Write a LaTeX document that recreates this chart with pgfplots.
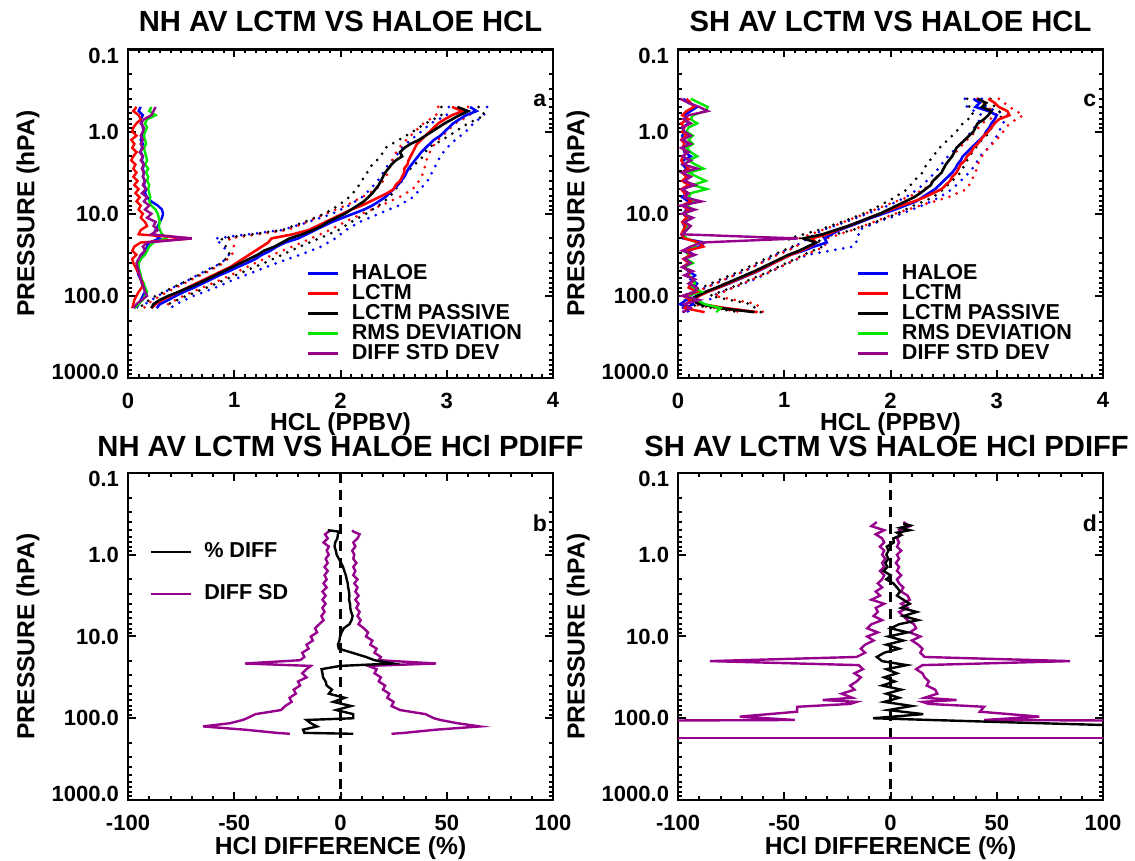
\documentclass[border=0pt]{standalone}
\usepackage{fontspec}
\setmainfont{Liberation Sans}
\usepackage{pgfplots}
\usepackage{pgfplotstable}
\pgfplotsset{compat=1.18}
\definecolor{hgreen}{RGB}{0,230,0}
\definecolor{hpurp}{RGB}{150,0,140}

\pgfplotstableread{
p hb hr hk nb nr ng np
0.501 3.22 3.05 3.10 0.12 0.08 0.22 0.26
0.562 3.28 3.15 3.20 0.10 0.05 0.20 0.24
0.631 3.18 3.05 3.12 0.14 0.10 0.26 0.22
0.708 3.12 2.98 3.05 0.12 0.12 0.18 0.15
0.794 3.06 2.92 2.98 0.13 0.08 0.16 0.12
0.891 3.02 2.88 2.92 0.14 0.05 0.18 0.15
1.00 2.98 2.84 2.86 0.15 0.04 0.16 0.14
1.12 2.94 2.80 2.80 0.13 0.08 0.15 0.12
1.26 2.88 2.76 2.74 0.12 0.03 0.16 0.14
1.41 2.84 2.72 2.66 0.14 0.06 0.17 0.12
1.58 2.80 2.70 2.60 0.13 0.04 0.15 0.14
1.78 2.76 2.68 2.56 0.12 0.08 0.16 0.11
2.00 2.73 2.66 2.58 0.14 0.05 0.17 0.14
2.24 2.70 2.64 2.52 0.13 0.03 0.18 0.12
2.51 2.67 2.63 2.48 0.15 0.07 0.16 0.15
2.82 2.64 2.60 2.45 0.14 0.05 0.19 0.13
3.16 2.62 2.60 2.42 0.15 0.08 0.17 0.15
3.55 2.60 2.58 2.40 0.14 0.05 0.19 0.14
3.98 2.57 2.56 2.38 0.16 0.09 0.18 0.16
4.47 2.54 2.52 2.36 0.15 0.06 0.20 0.14
5.01 2.50 2.50 2.33 0.17 0.10 0.19 0.17
5.62 2.46 2.44 2.30 0.16 0.07 0.20 0.13
6.31 2.42 2.36 2.26 0.18 0.11 0.21 0.18
7.08 2.36 2.28 2.22 0.22 0.08 0.20 0.15
7.94 2.30 2.20 2.16 0.28 0.12 0.22 0.20
8.91 2.22 2.10 2.10 0.32 0.10 0.26 0.16
10.0 2.12 2.02 2.04 0.33 0.14 0.28 0.22
11.2 2.02 1.94 1.96 0.32 0.12 0.29 0.18
12.6 1.92 1.86 1.88 0.30 0.16 0.30 0.26
14.1 1.84 1.78 1.82 0.28 0.18 0.29 0.24
15.8 1.76 1.70 1.74 0.26 0.12 0.30 0.28
17.8 1.68 1.55 1.64 0.24 0.10 0.32 0.22
20.0 1.60 1.35 1.52 0.30 0.60 0.36 0.60
22.4 1.48 1.32 1.45 0.20 0.12 0.24 0.18
25.1 1.40 1.26 1.38 0.18 0.06 0.20 0.14
28.2 1.34 1.20 1.28 0.16 0.04 0.18 0.16
31.6 1.26 1.14 1.22 0.15 0.08 0.16 0.12
35.5 1.20 1.08 1.14 0.12 0.04 0.12 0.10
39.8 1.12 1.02 1.06 0.10 0.05 0.10 0.08
44.7 1.03 0.96 0.98 0.08 0.07 0.10 0.09
50.1 0.95 0.88 0.90 0.09 0.09 0.11 0.10
56.2 0.86 0.80 0.82 0.10 0.11 0.12 0.11
63.1 0.78 0.72 0.74 0.12 0.12 0.13 0.12
70.8 0.70 0.64 0.66 0.14 0.14 0.15 0.13
79.4 0.62 0.56 0.57 0.15 0.13 0.16 0.15
89.1 0.53 0.48 0.48 0.16 0.10 0.18 0.16
100 0.45 0.40 0.38 0.14 0.08 0.16 0.18
112 0.38 0.32 0.30 0.12 0.06 0.14 0.13
126 0.30 0.26 0.24 0.10 0.05 0.10 0.08
141 0.27 0.22 0.22 0.08 0.04 0.06 0.05
}\tlm

\pgfplotstableread{
p blo bhi rlo rhi klo khi
0.501 3.02 3.38 2.92 3.20 2.95 3.30
0.631 3.00 3.35 2.90 3.22 2.95 3.36
0.794 2.85 3.25 2.78 3.08 2.80 3.20
1.00 2.76 3.18 2.70 3.00 2.68 3.08
1.26 2.66 3.08 2.62 2.92 2.55 2.96
1.58 2.58 3.00 2.55 2.86 2.42 2.82
2.00 2.52 2.94 2.50 2.82 2.38 2.78
2.51 2.45 2.90 2.47 2.80 2.30 2.70
3.16 2.40 2.86 2.45 2.78 2.25 2.62
3.98 2.35 2.82 2.40 2.74 2.20 2.58
5.01 2.28 2.75 2.34 2.68 2.15 2.52
6.31 2.20 2.68 2.20 2.55 2.08 2.46
7.94 2.08 2.55 2.05 2.38 1.98 2.36
10.0 1.92 2.36 1.86 2.20 1.85 2.24
12.6 1.70 2.18 1.68 2.04 1.66 2.10
15.8 1.45 2.05 1.50 1.90 1.45 1.98
20.0 0.82 1.95 0.95 1.72 0.88 1.80
25.1 0.90 1.82 1.00 1.55 0.92 1.62
31.6 0.95 1.62 0.98 1.36 0.96 1.45
39.8 0.88 1.40 0.90 1.20 0.88 1.28
50.1 0.72 1.20 0.76 1.04 0.74 1.10
63.1 0.58 1.00 0.60 0.88 0.58 0.92
79.4 0.42 0.82 0.45 0.70 0.42 0.74
100 0.28 0.62 0.30 0.52 0.26 0.55
126 0.16 0.45 0.18 0.38 0.14 0.38
141 0.14 0.40 0.15 0.34 0.12 0.34
}\tld

\pgfplotstableread{
p hb hr hk nb nr ng np
0.398 2.78 2.92 2.82 0.05 0.08 0.12 0.02
0.447 2.84 2.98 2.90 0.10 0.12 0.20 0.10
0.501 2.80 3.02 2.86 0.18 0.15 0.28 0.20
0.562 2.92 3.10 2.95 0.12 0.08 0.26 0.28
0.631 3.00 3.12 2.92 0.06 0.04 0.14 0.10
0.708 2.98 3.02 2.88 0.08 0.10 0.12 0.05
0.794 2.95 2.98 2.82 0.10 0.03 0.18 0.12
0.891 2.93 2.95 2.80 0.04 0.06 0.10 0.04
1.00 2.90 2.92 2.78 0.06 0.04 0.08 0.06
1.12 2.88 2.88 2.74 0.04 0.08 0.14 0.12
1.26 2.84 2.85 2.70 0.05 0.03 0.10 0.04
1.41 2.80 2.82 2.66 0.10 0.06 0.14 0.12
1.58 2.76 2.78 2.62 0.05 0.04 0.08 0.03
1.78 2.72 2.76 2.60 0.06 0.08 0.12 0.10
2.00 2.68 2.72 2.58 0.12 0.05 0.18 0.04
2.24 2.66 2.70 2.55 0.05 0.03 0.10 0.12
2.51 2.63 2.66 2.52 0.04 0.06 0.16 0.05
2.82 2.61 2.64 2.50 0.08 0.10 0.24 0.18
3.16 2.58 2.62 2.48 0.04 0.04 0.10 0.04
3.55 2.54 2.58 2.44 0.10 0.08 0.18 0.12
3.98 2.50 2.56 2.40 0.06 0.04 0.26 0.06
4.47 2.46 2.52 2.38 0.12 0.10 0.14 0.16
5.01 2.42 2.48 2.33 0.05 0.03 0.27 0.04
5.62 2.36 2.40 2.28 0.08 0.06 0.12 0.10
6.31 2.30 2.32 2.22 0.04 0.08 0.10 0.06
7.08 2.24 2.22 2.14 0.10 0.12 0.16 0.22
7.94 2.14 2.10 2.06 0.06 0.04 0.08 0.03
8.91 2.04 2.00 1.98 0.08 0.10 0.14 0.16
10.0 1.93 1.90 1.90 0.05 0.05 0.06 0.04
11.2 1.82 1.80 1.80 0.09 0.08 0.12 0.14
12.6 1.72 1.70 1.70 0.04 0.04 0.05 0.06
14.1 1.62 1.60 1.60 0.06 0.07 0.10 0.12
15.8 1.52 1.50 1.48 0.08 0.05 0.06 0.08
17.8 1.44 1.40 1.36 0.04 0.03 0.05 0.04
20.0 1.38 1.26 1.18 0.05 0.06 0.08 1.13
22.4 1.40 1.30 1.30 0.25 0.20 0.18 0.22
25.1 1.28 1.24 1.22 0.20 0.24 0.16 0.12
28.2 1.18 1.16 1.14 0.10 0.08 0.06 0.04
31.6 1.06 1.06 1.04 0.14 0.12 0.10 0.16
35.5 0.98 0.98 0.96 0.06 0.05 0.08 0.06
39.8 0.90 0.90 0.88 0.12 0.10 0.14 0.12
44.7 0.83 0.82 0.80 0.05 0.04 0.06 0.04
50.1 0.75 0.74 0.72 0.10 0.12 0.12 0.14
56.2 0.66 0.65 0.63 0.16 0.08 0.10 0.06
63.1 0.57 0.56 0.54 0.12 0.15 0.14 0.16
70.8 0.48 0.47 0.45 0.18 0.12 0.16 0.10
79.4 0.38 0.38 0.36 0.15 0.10 0.12 0.18
89.1 0.28 0.28 0.26 0.20 0.18 0.22 0.16
100 0.18 0.20 0.18 0.10 0.05 0.08 0.04
112 0.10 0.14 0.12 0.08 0.12 0.18 0.20
126 0.14 0.22 0.20 0.02 0.08 0.25 0.06
141 0.08 0.45 0.40 0.10 0.06 0.40 0.12
158 0.10 0.75 0.72 0.05 0.25 0.36 0.04
}\trm

\pgfplotstableread{
p blo bhi rlo rhi klo khi
0.398 2.70 2.86 2.82 3.02 2.72 2.94
0.501 2.72 2.90 2.92 3.12 2.74 2.98
0.631 2.86 3.10 3.00 3.25 2.78 3.06
0.794 2.82 3.06 2.86 3.12 2.68 2.96
1.00 2.76 3.02 2.80 3.06 2.62 2.94
1.26 2.70 2.98 2.72 3.00 2.54 2.86
1.58 2.62 2.92 2.65 2.92 2.46 2.80
2.00 2.54 2.84 2.58 2.86 2.40 2.74
2.51 2.48 2.80 2.52 2.82 2.34 2.70
3.16 2.42 2.74 2.48 2.80 2.30 2.66
3.98 2.34 2.66 2.40 2.76 2.22 2.58
5.01 2.26 2.58 2.32 2.72 2.16 2.50
6.31 2.14 2.46 2.16 2.54 2.04 2.40
7.94 1.98 2.30 1.95 2.28 1.90 2.22
10.0 1.78 2.10 1.76 2.04 1.74 2.06
12.6 1.58 1.88 1.56 1.84 1.54 1.86
15.8 1.36 1.70 1.36 1.64 1.32 1.64
20.0 1.22 1.70 1.14 1.40 1.04 1.32
25.1 1.10 1.65 1.12 1.38 1.08 1.36
31.6 0.92 1.22 0.94 1.20 0.90 1.18
39.8 0.78 1.04 0.78 1.04 0.74 1.02
50.1 0.62 0.88 0.62 0.88 0.58 0.86
63.1 0.44 0.72 0.44 0.70 0.40 0.68
79.4 0.26 0.52 0.26 0.52 0.22 0.50
100 0.08 0.32 0.10 0.34 0.06 0.30
126 0.05 0.28 0.12 0.74 0.08 0.68
158 0.04 0.22 0.60 0.80 0.58 0.78
}\trd

\pgfplotstableread{
p d lo hi
0.501 -6.0 -5.0 5.5
0.520 -1.0 -5.5 6.0
0.562 -1.2 -7.3 9.0
0.631 -1.5 -6.0 8.0
0.708 -2.5 -8.0 6.0
0.794 -2.8 -5.5 7.0
0.891 -2.2 -6.5 5.5
1.00 -1.8 -5.5 6.5
1.12 -0.8 -7.0 6.0
1.26 0.3 -6.0 7.5
1.41 1.2 -7.5 6.0
1.58 1.8 -6.0 7.0
1.78 2.5 -7.5 6.0
2.00 2.9 -6.5 8.0
2.24 3.4 -8.0 6.5
2.51 3.6 -6.5 8.0
2.82 4.0 -8.5 7.0
3.16 4.2 -7.0 8.5
3.55 4.0 -8.5 7.0
3.98 4.5 -7.0 8.5
4.47 4.6 -8.5 7.5
5.01 5.0 -7.5 9.0
5.62 5.7 -9.0 8.0
6.31 5.2 -8.0 9.5
7.08 4.2 -10.0 8.5
7.94 1.5 -12.0 11.0
8.91 0.5 -11.0 13.0
10.0 -0.2 -14.0 12.0
11.2 -0.5 -13.0 15.0
12.6 -1.2 -16.0 14.0
14.1 -0.8 -15.0 17.0
15.8 5.5 -18.0 16.0
17.8 12.0 -17.0 19.0
19.5 16.0 -19.0 18.0
21.4 24.7 -45.0 45.0
22.9 -0.2 -14.0 13.0
25.1 -8.9 -16.0 17.0
28.2 -8.5 -18.0 16.0
31.6 -8.2 -16.0 19.0
35.5 -7.0 -20.0 18.0
39.8 -6.5 -19.0 21.0
44.7 -4.0 -22.0 20.0
50.1 -5.5 -21.0 23.0
56.2 2.0 -24.0 22.0
63.1 -3.4 -23.0 25.0
70.8 5.0 -26.0 24.0
79.4 -2.0 -28.0 28.0
89.1 6.0 -40.0 40.0
100 6.0 -44.0 44.0
105 -16.0 -46.0 47.0
115 -14.0 -52.0 55.0
126 -11.0 -64.7 65.6
138 -17.6 -45.0 45.0
151 -17.0 -30.0 30.0
155 6.0 -23.8 24.0
}\bld

\pgfplotstableread{
p d
0.417 6.0
0.437 9.0
0.468 4.5
0.501 9.0
0.537 3.0
0.575 5.0
0.631 1.3
0.708 1.5
0.794 -1.8
0.891 -1.0
1.00 -2.0
1.12 -1.0
1.26 -2.5
1.41 -1.5
1.58 -3.4
1.78 0.0
2.00 -2.0
2.24 1.3
2.51 3.0
2.82 4.5
3.16 3.0
3.55 6.0
3.98 9.0
4.47 5.0
5.01 12.3
5.62 6.0
6.31 13.0
7.08 4.0
7.94 0.0
8.91 8.0
10.0 -1.0
11.2 6.0
12.6 -2.0
14.1 4.0
15.8 -3.0
17.8 -6.5
20.0 -4.0
22.4 7.6
25.1 -2.0
28.2 3.0
31.6 -3.0
35.5 2.0
39.8 -4.0
44.7 5.0
50.1 -2.0
56.2 4.0
63.1 -3.0
70.8 10.0
79.4 -1.0
89.1 15.4
100 -8.2
112 55.0
123 110.0
}\brd

\pgfplotstableread{
p lo hi
0.398 -6.5 6.0
0.447 -9.0 9.0
0.501 -3.0 4.0
0.562 -7.0 5.0
0.631 -4.0 3.0
0.708 -3.0 4.0
0.794 -5.0 3.0
0.891 -3.0 5.0
1.00 -4.0 3.0
1.12 -2.5 4.0
1.26 -4.0 2.5
1.41 -3.0 4.0
1.58 -5.0 3.0
1.78 -3.0 5.0
2.00 -4.0 3.0
2.24 -6.0 4.0
2.51 -4.0 6.0
2.82 -7.0 5.0
3.16 -5.0 8.0
3.55 -9.0 9.0
3.98 -3.0 5.0
4.47 -7.0 8.0
5.01 -6.0 4.0
5.62 -8.0 6.0
6.31 -4.0 8.0
7.08 -9.0 11.0
7.94 -11.0 12.0
8.91 -6.0 9.0
10.0 -11.0 14.0
11.2 -8.0 10.0
12.6 -12.0 13.0
14.1 -14.0 15.0
15.8 -12.0 14.0
17.8 -16.0 16.0
20.0 -85.0 84.5
22.4 -15.0 15.0
25.1 -13.0 12.0
28.2 -17.0 15.0
31.6 -14.0 16.0
35.5 -16.0 18.0
39.8 -19.0 17.0
44.7 -17.0 21.0
50.1 -23.0 22.0
56.2 -18.0 16.0
59.8 -32.0 31.0
63.1 -16.0 15.0
66.8 -19.0 18.0
72.4 -44.0 44.0
83.2 -44.0 42.0
95.5 -71.0 70.0
105 -45.0 44.0
115 -400.0 400.0
173 -3000.0 3000.0
}\brs

\newcommand{\tickfont}{\bfseries\fontsize{11}{13}\selectfont}
\newcommand{\labfont}{\bfseries\fontsize{12.3}{14}\selectfont}
\newcommand{\legfont}{\bfseries\fontsize{10.8}{12}\selectfont}
\newcommand{\titfont}{\bfseries\fontsize{14.6}{17}\selectfont}

\pgfplotsset{every axis/.append style={
    scale only axis, width=212.5pt,
    ymin=0.1, ymax=1000,
    tick align=inside,
    major tick length=4pt, minor tick length=2pt,
    tick style={black, line width=1pt},
    axis line style={line width=1.2pt},
    tick label style={font=\tickfont},
    legend cell align=left,
}}

\begin{document}
\begin{tikzpicture}
\useasboundingbox (0,0) rectangle (567.5pt,430.5pt);

% ================= (a) =================
\begin{axis}[at={(64pt,241.5pt)}, anchor=south west, height=164.25pt,
  ymode=log, y dir=reverse,
  ytick={0.1,1,10,100,1000}, yticklabels={\raisebox{-3pt}[7.9pt][0pt]{0.1},1.0,10.0,100.0,\raisebox{3pt}[7.9pt][0pt]{1000.0}},
  minor ytick={0.2,0.3,0.4,0.5,0.6,0.7,0.8,0.9,2,3,4,5,6,7,8,9,20,30,40,50,60,70,80,90,200,300,400,500,600,700,800,900},
  xmin=0, xmax=4, xtick={0,1,2,3,4}, xticklabels={0,1,2,3,4}, minor x tick num=9,
  xtick pos=both, ytick pos=both, xticklabel pos=bottom, yticklabel pos=left,
  yticklabel style={xshift=-1pt}, xticklabel style={yshift=-3.8pt},
  ylabel={PRESSURE (hPA)},
  ylabel style={at={(axis description cs:-0.235,0.5)}, anchor=center, font=\labfont},
  xlabel={HCL (PPBV)},
  xlabel style={at={(axis description cs:0.5,0)}, anchor=center, yshift=-23pt, inner sep=0pt, font=\labfont},
  title={NH AV LCTM VS HALOE HCL},
  title style={at={(axis description cs:0.5,1)}, anchor=base, yshift=3pt, inner sep=0pt, font=\titfont},
  legend image code/.code={\draw[#1] (0pt,0pt) -- (15pt,0pt);},
  legend style={draw=none, fill=none, at={(0.42,0.36)}, anchor=north west,
    font=\legfont, inner sep=0pt, row sep=-3pt, column sep=4pt}]
\addplot[blue, line width=1.5pt, dash pattern=on 0pt off 4pt, line cap=round, forget plot] table[x=blo, y=p] {\tld};
\addplot[blue, line width=1.5pt, dash pattern=on 0pt off 4pt, line cap=round, forget plot] table[x=bhi, y=p] {\tld};
\addplot[red, line width=1.5pt, dash pattern=on 0pt off 4pt, line cap=round, forget plot] table[x=rlo, y=p] {\tld};
\addplot[red, line width=1.5pt, dash pattern=on 0pt off 4pt, line cap=round, forget plot] table[x=rhi, y=p] {\tld};
\addplot[black, line width=1.5pt, dash pattern=on 0pt off 4pt, line cap=round, forget plot] table[x=klo, y=p] {\tld};
\addplot[black, line width=1.5pt, dash pattern=on 0pt off 4pt, line cap=round, forget plot] table[x=khi, y=p] {\tld};
\addplot[blue, line width=1.3pt, forget plot] table[x=hb, y=p] {\tlm};
\addplot[red, line width=1.3pt, forget plot] table[x=hr, y=p] {\tlm};
\addplot[black, line width=1.3pt, forget plot] table[x=hk, y=p] {\tlm};
\addplot[blue, line width=1.2pt, forget plot] table[x=nb, y=p] {\tlm};
\addplot[hgreen, line width=1.2pt, forget plot] table[x=ng, y=p] {\tlm};
\addplot[red, line width=1.2pt, forget plot] table[x=nr, y=p] {\tlm};
\addplot[hpurp, line width=1.2pt, forget plot] table[x=np, y=p] {\tlm};
\addlegendimage{blue, line width=1.5pt}\addlegendentry{HALOE}
\addlegendimage{red, line width=1.5pt}\addlegendentry{LCTM}
\addlegendimage{black, line width=1.5pt}\addlegendentry{LCTM PASSIVE}
\addlegendimage{hgreen, line width=1.5pt}\addlegendentry{RMS DEVIATION}
\addlegendimage{hpurp, line width=1.5pt}\addlegendentry{DIFF STD DEV}
\node[font=\bfseries\fontsize{11.5}{13}\selectfont] at (axis description cs:0.969,0.846) {a};
\end{axis}

% ================= (c) =================
\begin{axis}[at={(339pt,241.5pt)}, anchor=south west, height=164.25pt,
  ymode=log, y dir=reverse,
  ytick={0.1,1,10,100,1000}, yticklabels={\raisebox{-3pt}[7.9pt][0pt]{0.1},1.0,10.0,100.0,\raisebox{3pt}[7.9pt][0pt]{1000.0}},
  minor ytick={0.2,0.3,0.4,0.5,0.6,0.7,0.8,0.9,2,3,4,5,6,7,8,9,20,30,40,50,60,70,80,90,200,300,400,500,600,700,800,900},
  xmin=0, xmax=4, xtick={0,1,2,3,4}, xticklabels={0,1,2,3,4}, minor x tick num=9,
  xtick pos=both, ytick pos=both, xticklabel pos=bottom, yticklabel pos=left,
  yticklabel style={xshift=-1pt}, xticklabel style={yshift=-3.8pt},
  ylabel={PRESSURE (hPA)},
  ylabel style={at={(axis description cs:-0.235,0.5)}, anchor=center, font=\labfont},
  xlabel={HCL (PPBV)},
  xlabel style={at={(axis description cs:0.5,0)}, anchor=center, yshift=-23pt, inner sep=0pt, font=\labfont},
  title={SH AV LCTM VS HALOE HCL},
  title style={at={(axis description cs:0.5,1)}, anchor=base, yshift=3pt, inner sep=0pt, font=\titfont},
  legend image code/.code={\draw[#1] (0pt,0pt) -- (15pt,0pt);},
  legend style={draw=none, fill=none, at={(0.42,0.36)}, anchor=north west,
    font=\legfont, inner sep=0pt, row sep=-3pt, column sep=4pt}]
\addplot[blue, line width=1.5pt, dash pattern=on 0pt off 4pt, line cap=round, forget plot] table[x=blo, y=p] {\trd};
\addplot[blue, line width=1.5pt, dash pattern=on 0pt off 4pt, line cap=round, forget plot] table[x=bhi, y=p] {\trd};
\addplot[red, line width=1.5pt, dash pattern=on 0pt off 4pt, line cap=round, forget plot] table[x=rlo, y=p] {\trd};
\addplot[red, line width=1.5pt, dash pattern=on 0pt off 4pt, line cap=round, forget plot] table[x=rhi, y=p] {\trd};
\addplot[black, line width=1.5pt, dash pattern=on 0pt off 4pt, line cap=round, forget plot] table[x=klo, y=p] {\trd};
\addplot[black, line width=1.5pt, dash pattern=on 0pt off 4pt, line cap=round, forget plot] table[x=khi, y=p] {\trd};
\addplot[blue, line width=1.3pt, forget plot] table[x=hb, y=p] {\trm};
\addplot[red, line width=1.3pt, forget plot] table[x=hr, y=p] {\trm};
\addplot[black, line width=1.3pt, forget plot] table[x=hk, y=p] {\trm};
\addplot[blue, line width=1.2pt, forget plot] table[x=nb, y=p] {\trm};
\addplot[hgreen, line width=1.2pt, forget plot] table[x=ng, y=p] {\trm};
\addplot[red, line width=1.2pt, forget plot] table[x=nr, y=p] {\trm};
\addplot[hpurp, line width=1.2pt, forget plot] table[x=np, y=p] {\trm};
\addlegendimage{blue, line width=1.5pt}\addlegendentry{HALOE}
\addlegendimage{red, line width=1.5pt}\addlegendentry{LCTM}
\addlegendimage{black, line width=1.5pt}\addlegendentry{LCTM PASSIVE}
\addlegendimage{hgreen, line width=1.5pt}\addlegendentry{RMS DEVIATION}
\addlegendimage{hpurp, line width=1.5pt}\addlegendentry{DIFF STD DEV}
\node[font=\bfseries\fontsize{11.5}{13}\selectfont] at (axis description cs:0.969,0.846) {c};
\end{axis}

% ================= (b) =================
\begin{axis}[at={(64pt,30.5pt)}, anchor=south west, height=163.5pt,
  ymode=log, y dir=reverse,
  ytick={0.1,1,10,100,1000}, yticklabels={\raisebox{-3pt}[7.9pt][0pt]{0.1},1.0,10.0,100.0,\raisebox{3pt}[7.9pt][0pt]{1000.0}},
  minor ytick={0.2,0.3,0.4,0.5,0.6,0.7,0.8,0.9,2,3,4,5,6,7,8,9,20,30,40,50,60,70,80,90,200,300,400,500,600,700,800,900},
  xmin=-100, xmax=100, xtick={-100,-50,0,50,100}, xticklabels={-100,-50,0,50,100}, minor x tick num=4,
  xtick pos=both, ytick pos=both, xticklabel pos=bottom, yticklabel pos=left,
  yticklabel style={xshift=-1pt}, xticklabel style={yshift=-3.8pt},
  ylabel={PRESSURE (hPA)},
  ylabel style={at={(axis description cs:-0.235,0.5)}, anchor=center, font=\labfont},
  xlabel={HCl DIFFERENCE (\%)},
  xlabel style={at={(axis description cs:0.5,0)}, anchor=center, yshift=-24pt, inner sep=0pt, font=\labfont},
  title={NH AV LCTM VS HALOE HCl PDIFF},
  title style={at={(axis description cs:0.5,1)}, anchor=base, yshift=2.2pt, inner sep=0pt, font=\titfont},
  legend image code/.code={\draw[#1] (0pt,0pt) -- (20pt,0pt);},
  legend style={draw=none, fill=none, at={(0.05,0.80)}, anchor=north west,
    font=\legfont, inner sep=0pt, row sep=8pt, column sep=4pt}]
\addplot[black, line width=1.2pt, dash pattern=on 5pt off 3.5pt, forget plot] coordinates {(0,0.1) (0,1000)};
\addplot[hpurp, line width=1.2pt, forget plot] table[x=lo, y=p] {\bld};
\addplot[hpurp, line width=1.2pt, forget plot] table[x=hi, y=p] {\bld};
\addplot[black, line width=1.2pt, forget plot] table[x=d, y=p] {\bld};
\addlegendimage{black, line width=1.3pt}\addlegendentry{\% DIFF}
\addlegendimage{hpurp, line width=1.3pt}\addlegendentry{DIFF SD}
\node[font=\bfseries\fontsize{11.5}{13}\selectfont] at (axis description cs:0.969,0.847) {b};
\end{axis}

% ================= (d) =================
\begin{axis}[at={(339pt,30.5pt)}, anchor=south west, height=163.5pt,
  ymode=log, y dir=reverse,
  ytick={0.1,1,10,100,1000}, yticklabels={\raisebox{-3pt}[7.9pt][0pt]{0.1},1.0,10.0,100.0,\raisebox{3pt}[7.9pt][0pt]{1000.0}},
  minor ytick={0.2,0.3,0.4,0.5,0.6,0.7,0.8,0.9,2,3,4,5,6,7,8,9,20,30,40,50,60,70,80,90,200,300,400,500,600,700,800,900},
  xmin=-100, xmax=100, xtick={-100,-50,0,50,100}, xticklabels={-100,-50,0,50,100}, minor x tick num=4,
  xtick pos=both, ytick pos=both, xticklabel pos=bottom, yticklabel pos=left,
  yticklabel style={xshift=-1pt}, xticklabel style={yshift=-3.8pt},
  ylabel={PRESSURE (hPA)},
  ylabel style={at={(axis description cs:-0.235,0.5)}, anchor=center, font=\labfont},
  xlabel={HCl DIFFERENCE (\%)},
  xlabel style={at={(axis description cs:0.5,0)}, anchor=center, yshift=-24pt, inner sep=0pt, font=\labfont},
  title={SH AV LCTM VS HALOE HCl PDIFF},
  title style={at={(axis description cs:0.5,1)}, anchor=base, yshift=2.2pt, xshift=-2pt, inner sep=0pt, font=\titfont}]
\addplot[black, line width=1.2pt, dash pattern=on 5pt off 3.5pt, forget plot] coordinates {(0,0.1) (0,1000)};
\addplot[hpurp, line width=1.2pt, forget plot] table[x=lo, y=p] {\brs};
\addplot[hpurp, line width=1.2pt, forget plot] table[x=hi, y=p] {\brs};
\addplot[hpurp, line width=1.2pt, forget plot] coordinates {(-3000,173) (3000,173)};
\addplot[black, line width=1.2pt, forget plot] table[x=d, y=p] {\brd};
\node[font=\bfseries\fontsize{11.5}{13}\selectfont] at (axis description cs:0.969,0.847) {d};
\end{axis}
\end{tikzpicture}
\end{document}
